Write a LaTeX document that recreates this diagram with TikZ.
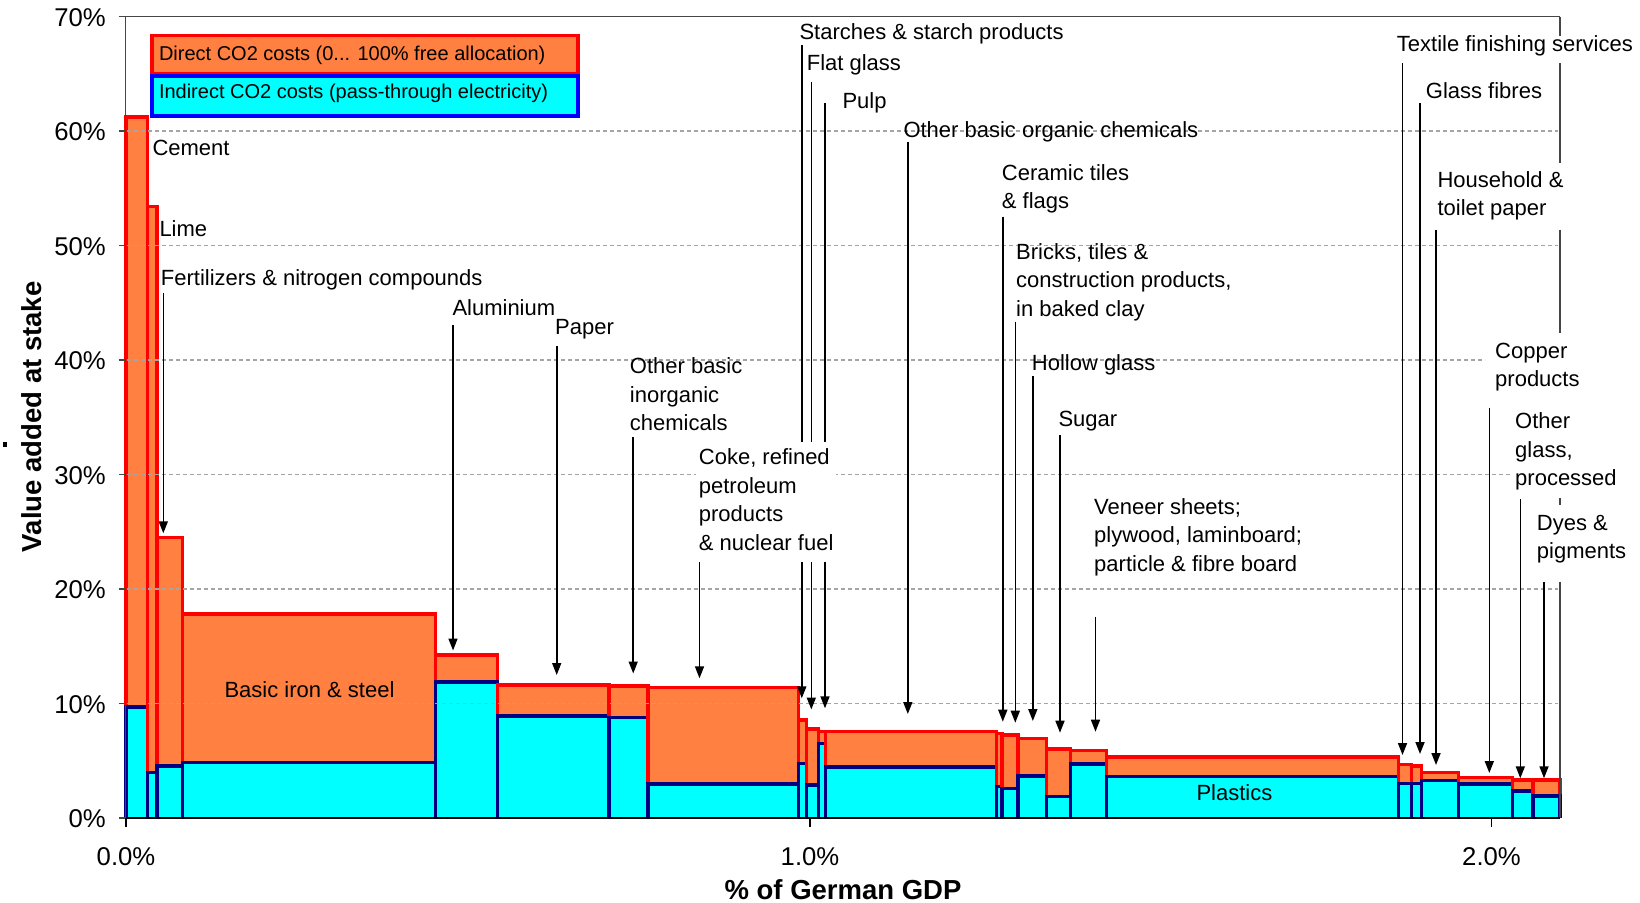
\documentclass[tikz,border=0pt]{standalone}
\usepackage{fontspec}
\setmainfont{Liberation Sans}
\usetikzlibrary{arrows.meta}
\definecolor{dirorange}{RGB}{255,128,64}
\definecolor{indcyan}{RGB}{0,255,255}
\definecolor{navyb}{RGB}{0,0,128}
\definecolor{gridgray}{RGB}{165,165,165}
\definecolor{axisgray}{RGB}{70,70,70}
\begin{document}
\begin{tikzpicture}[x=1pt,y=-1pt,
  lab/.style={font=\fontsize{22}{28.4}\selectfont, inner sep=0pt, anchor=north west, align=left},
  leglab/.style={font=\fontsize{20}{24}\selectfont, inner sep=0pt, anchor=base west},
  inlab/.style={font=\fontsize{22}{26}\selectfont, inner sep=0pt, anchor=base},
  arr/.style={draw=black, line width=1.6pt, -{Triangle[length=12pt,width=9pt]}},
  gridln/.style={draw=gridgray, line width=1.3pt, dash pattern=on 4pt off 3pt},
  frameln/.style={draw=axisgray, line width=1.5pt},
  redln/.style={draw=red, line width=3.5pt},
  navyln/.style={draw=navyb, line width=3.5pt},
  ticklab/.style={font=\fontsize{25.7}{30}\selectfont, inner sep=0pt},
  axtitle/.style={font=\fontsize{27.5}{32}\selectfont\bfseries, inner sep=0pt}
]
\useasboundingbox (0,0) rectangle (1640,902);
\fill[white] (0,0) rectangle (1640,902);

% bars: x left / x right / top of direct / top of indirect
\foreach \xa/\xb/\yt/\yi in {126/147.5/117/707, 147.5/157/206.7/772.7, 157/182.5/537.7/766,
  182.5/435.7/614/762.3, 435.7/497.5/655/682, 497.5/609/685/716, 609/648.2/686/717.3,
  648.2/798.5/687.7/784, 798.5/806.7/720/763.3, 806.7/818.3/729/785, 818.3/825.7/731.7/743.3,
  825.7/996.4/731.7/767, 996.4/1001.8/733.3/786.7, 1001.8/1017.9/735/788.3,
  1017.9/1046.4/738.3/776, 1046.4/1070.7/749/796.7, 1070.7/1106.4/750.7/764,
  1106.4/1398.5/757/776.7, 1398.5/1411.7/764.5/783.5, 1411.7/1421.5/766/783.3,
  1421.5/1458.3/772.7/780.7, 1458.3/1512.7/777.5/784, 1512.7/1533/780/791, 1533/1560/780/796}
{
  \fill[dirorange] (\xa,818) rectangle (\xb,\yt);
  \draw[redln] (\xa,818) |- (\xb,\yt) -- (\xb,818);
  \fill[indcyan] (\xa,818) rectangle (\xb,\yi);
  \draw[navyln] (\xa,818) |- (\xb,\yi) -- (\xb,818);
}

% gridlines
\draw[gridln] (127,131) -- (1558,131);
\draw[gridln] (127,245.5) -- (1558,245.5);
\draw[gridln] (127,360) -- (1485,360);
\draw[gridln] (127,474.5) -- (1510,474.5);
\draw[gridln] (127,589) -- (1558,589);
\draw[gridln] (127,703.5) -- (1558,703.5);

% frame and axes
\draw[frameln] (120,16.5) -- (1560,16.5);
\draw[frameln] (125.5,16.5) -- (125.5,818);
\foreach \k in {0,...,7} \draw[frameln] (118.5,{818-114.5*\k}) -- (125.5,{818-114.5*\k});
\draw[frameln] (1560,16.5) -- (1560,36.4);
\draw[frameln] (1560,63.1) -- (1560,162.6);
\draw[frameln] (1560,229.6) -- (1560,333);
\draw[frameln] (1560,497.5) -- (1560,505);
\draw[frameln] (1560,581.7) -- (1560,818);
\draw[black, line width=1.5pt] (125.5,818) -- (1560,818);
\foreach \xx in {126,810,1491.5} \draw[black, line width=1.5pt] (\xx,818) -- (\xx,827);

% tick labels
\foreach \k/\t in {0/0,1/10,2/20,3/30,4/40,5/50,6/60,7/70}
  \node[ticklab, anchor=base east] (yt\k) at (106,{827.6-114.5*\k}) {\t\%};
\node[ticklab, anchor=base] (xt0) at (126,865) {0.0\%};
\node[ticklab, anchor=base] (xt1) at (810,865) {1.0\%};
\node[ticklab, anchor=base] (xt2) at (1491.5,865) {2.0\%};

% axis titles
\node[axtitle, anchor=base] (xtitle) at (843,899) {\% of German GDP};
\node[axtitle, anchor=base, rotate=90] (ytitle) at (41.7,416.8) {Value added at stake};
\fill[black] (3.4,441.8) rectangle (6.6,447.2);

% legend
\filldraw[fill=dirorange, draw=red, line width=3.5pt] (152,35.7) rectangle (578,73.5);
\filldraw[fill=indcyan, draw=blue, line width=3.5pt] (152,76) rectangle (578,116);
\node[leglab] (legdir) at (158.8,60) {Direct CO2 costs (0... 100\% free allocation)};
\node[leglab] (legind) at (158.8,98) {Indirect CO2 costs (pass-through electricity)};

% labels inside bars
\node[inlab] (lIron) at (309.5,697.3) {Basic iron \& steel};
\node[inlab] (lPlastics) at (1234.4,800.7) {Plastics};

% arrows: name / x / start y / tip y
\foreach \n/\x/\ys/\ye in {fert/163.3/292.7/533.3, alu/453/325/650.5, paper/556.7/346/675,
  inorg/633.2/437/673.5, coke/699.5/559.6/678.3, starch/801.8/45/698.3, flat/811.3/81.7/709.5,
  pulp/825/103.3/708.3, org/907.8/141.7/714, ceram/1002.8/216.7/721.7, bricks/1015.3/321.7/722.7,
  hollow/1032.8/376/721, sugar/1060/435/732.7, veneer/1095.5/616.7/731.7,
  textile/1402.5/63.1/755, glassf/1420/103.3/754, house/1436/229.6/765,
  copper/1489.3/407.6/773, oglass/1520.3/499.4/778.3, dyes/1544/581.7/778.3}
{
  \coordinate (\n S) at (\x,\ys);
  \coordinate (\n E) at (\x,\ye);
  \draw[arr] (\n S) -- (\n E);
}

% sector labels
\node[lab] (lCement) at (152.3,135.2) {\strut Cement};
\node[lab] (lLime) at (159.3,216.9) {\strut Lime};
\node[lab] (lFert) at (160.7,265.2) {\strut Fertilizers \& nitrogen compounds};
\node[lab] (lAlu) at (452.3,295.2) {\strut Aluminium};
\node[lab] (lPaper) at (555,314) {\strut Paper};
\node[lab] (lInorg) at (629.7,353.8) {\strut Other basic\\\strut inorganic\\\strut chemicals};
\node[lab, fill=white, inner sep=3pt] (lCoke) at (695.7,441.8) {\strut Coke, refined\\\strut petroleum\\\strut products\\\strut \& nuclear fuel};
\node[lab] (lStarch) at (799.3,19.5) {\strut Starches \& starch products};
\node[lab] (lFlat) at (806.6,50.9) {\strut Flat glass};
\node[lab] (lPulp) at (842.3,88.5) {\strut Pulp};
\node[lab] (lOrg) at (903.3,117.5) {\strut Other basic organic chemicals};
\node[lab] (lCeram) at (1001.7,160.2) {\strut Ceramic tiles\\\strut \& flags};
\node[lab] (lBricks) at (1016,239.5) {\strut Bricks, tiles \&\\\strut construction products,\\\strut in baked clay};
\node[lab] (lHollow) at (1031.7,350.2) {\strut Hollow glass};
\node[lab] (lSugar) at (1058.3,406.9) {\strut Sugar};
\node[lab] (lVeneer) at (1094,494.5) {\strut Veneer sheets;\\\strut plywood, laminboard;\\\strut particle \& fibre board};
\node[lab] (lTextile) at (1396.7,31.9) {\strut Textile finishing services};
\node[lab] (lGlassF) at (1425.7,78.9) {\strut Glass fibres};
\node[lab] (lHouse) at (1437.3,167) {\strut Household \&\\\strut toilet paper};
\node[lab] (lCopper) at (1495,338) {\strut Copper\\\strut products};
\node[lab] (lOGlass) at (1515,408.8) {\strut Other\\\strut glass,\\\strut processed};
\node[lab] (lDyes) at (1536.7,510.2) {\strut Dyes \&\\\strut pigments};
\end{tikzpicture}
\end{document}
